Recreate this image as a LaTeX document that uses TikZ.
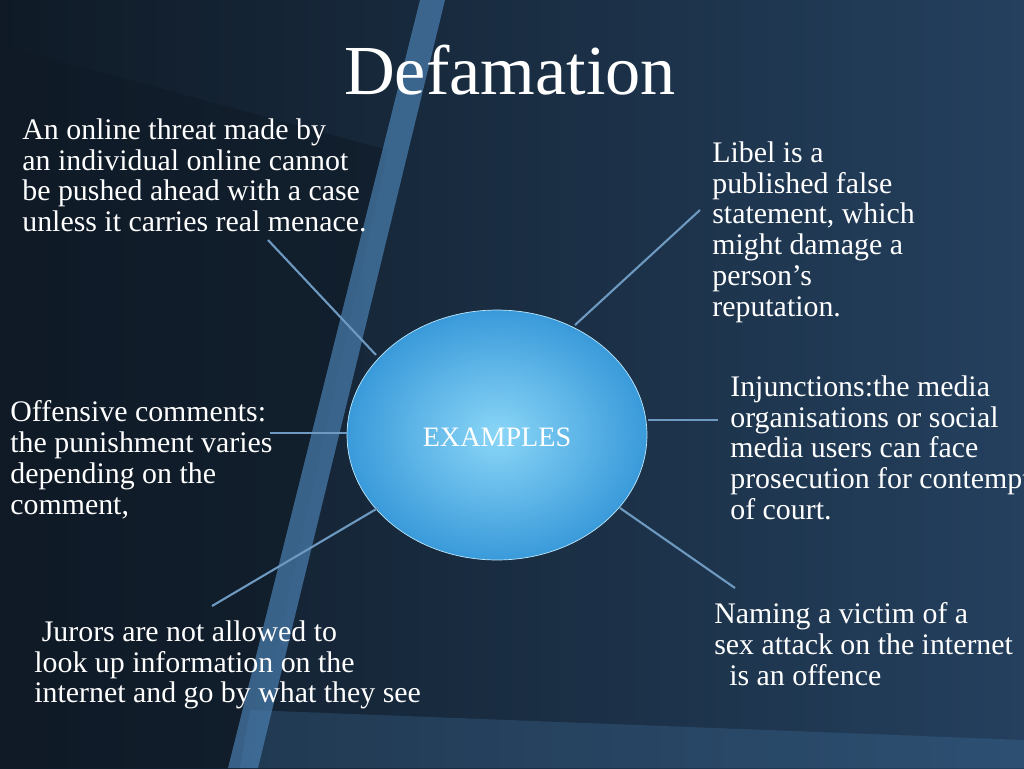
\documentclass[tikz,border=0pt]{standalone}
\usepackage{fontspec}
\setmainfont{Liberation Serif}
\usetikzlibrary{positioning,shapes.geometric}
\definecolor{bgdark}{HTML}{0F1A26}
\definecolor{bgmid}{HTML}{24405E}
\definecolor{stripe}{HTML}{4A7FB0}
\definecolor{ballin}{HTML}{8AD6F7}
\definecolor{ballout}{HTML}{3A9ADA}
\begin{document}
\begin{tikzpicture}[x=0.02cm,y=-0.02cm,
  txt/.style={anchor=north west,align=left,text=white,font=\fontsize{17}{17.6}\selectfont,inner sep=0pt},
  link/.style={draw=stripe!80!white,line width=1.2pt}]
  % background
  \fill[left color=bgdark,right color=bgmid] (0,0) rectangle (1024,768);
  \useasboundingbox (0,0) rectangle (1024,768);
  \fill[bgdark,opacity=.6] (0,45) -- (388,150) -- (250,768) -- (0,768) -- cycle;
  \fill[stripe,opacity=.7] (420,0) -- (445,0) -- (258,768) -- (228,768) -- cycle;
  \fill[stripe,opacity=.25] (250,710) -- (1024,740) -- (1024,768) -- (240,768) -- cycle;
  % title
  \node[text=white,font=\fontsize{40}{42}\selectfont] (title) at (510,70) {Defamation};
  % centre
  \node[ellipse,inner sep=0pt,minimum width=6cm,minimum height=5cm,
        inner color=ballin,outer color=ballout,draw=ballin!60!white]
        (ball) at (497,435) {};
  \node[text=white,font=\fontsize{16}{18}\selectfont] at (497,437) {EXAMPLES};
  % texts
  \node[txt] (threat) at (22,118) {An online threat made by\\an individual online cannot\\be pushed ahead with a case\\unless it carries real menace.};
  \node[txt] (libel) at (712,141) {Libel is a\\published false\\statement, which\\might damage a\\person’s\\reputation.};
  \node[txt] (offens) at (10,400) {Offensive comments:\\ the punishment varies\\depending on the\\comment,};
  \node[txt] (inj) at (730,375) {Injunctions:the media\\organisations or social\\media users can face\\prosecution for contempt\\of court.};
  \node[txt] (jurors) at (34,620) {\ Jurors are not allowed to\\look up information on the\\internet and go by what they see};
  \node[txt] (naming) at (714,602) {Naming a victim of a\\sex attack on the internet\\\ \ is an offence};
  % connectors
  \coordinate (c1) at (268,240); \coordinate (e1) at (376,355);
  \coordinate (c2) at (700,210); \coordinate (e2) at (575,325);
  \coordinate (c3) at (270,433); \coordinate (e3) at (347,433);
  \coordinate (c4) at (212,606); \coordinate (e4) at (378,508);
  \coordinate (c5) at (718,420); \coordinate (e5) at (648,420);
  \coordinate (c6) at (735,588); \coordinate (e6) at (620,508);
  \foreach \i in {1,...,6} \draw[link] (c\i) -- (e\i);
\end{tikzpicture}
\end{document}
